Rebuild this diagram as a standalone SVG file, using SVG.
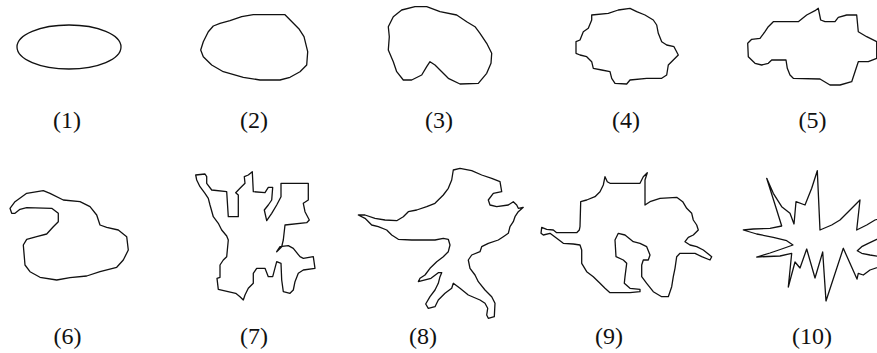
<svg xmlns="http://www.w3.org/2000/svg" width="877" height="353" viewBox="0 0 877 353">
<style>
.s{fill:none;stroke:#111;stroke-width:1.3;stroke-linejoin:round}
.t{font-family:"Liberation Serif","Times New Roman",serif;font-size:24px;text-anchor:middle;fill:#111}
</style>
<rect width="877" height="353" fill="#fff"/>
<g id="shape1"><ellipse class="s" cx="69" cy="47" rx="52" ry="22"/><text class="t" x="67" y="128">(1)</text></g>
<g id="shape2"><polygon class="s" points="253.3,14.7 285,14.7 299.3,29.3 304,36.7 307.7,51.7 306.7,65 300,71.7 290,77.3 280,80 260,80 243.3,77.3 223.3,71.7 211.7,65 203.3,56.7 200.7,50 203.3,41.7 208.3,31.7 213.3,26 220,23.3 230,20.7 241.7,16.7"/><text class="t" x="254" y="128">(2)</text></g>
<g id="shape3"><polygon class="s" points="415,6.7 426.7,6.7 440,11.7 456.7,15 466.7,21.7 475,26.7 480,33.3 486.7,43.3 491.7,53.3 491,63.3 486.7,73.3 478.3,83.3 460,84 448.3,78.3 440,70 435,65 430,61.7 426.7,66.7 421.7,75 411.7,80 403.3,80 396.7,71.7 393.3,61.7 388.3,50 389.3,36.7 388.3,26.7 393.3,16.7 401.7,10"/><text class="t" x="439" y="128">(3)</text></g>
<g id="shape4"><polygon class="s" points="591.7,15 608.3,13.3 618.3,10 630,8.3 636.7,11.7 645,15 653.3,20 656.7,25 658.3,33.3 661.7,41.7 666.7,45 674,46.7 678.3,55 673.3,60 668.3,65 666.7,75 661.7,78.3 646.7,78.3 630,80 626.7,84 615,83.3 611.7,78.3 610,71.7 601.7,70 593.3,68.3 591.7,61.7 586.7,56.7 580,55 576,53.3 576,41.7 580,40 583.3,31.7 588.3,28.3 591.7,20"/><text class="t" x="626" y="128">(4)</text></g>
<g id="shape5"><polygon class="s" points="773.3,21.7 798.3,21.7 806.7,15 815,10.7 818.3,8.3 820.7,20 825,21.7 835,21.7 838.3,17.3 846.7,15 856.7,15 858.3,31.7 866.7,36.7 876.7,41.7 876.7,58.3 868.3,61.7 858.3,61.7 855,71.7 851.7,81.7 840,85 830,85 820,79 793.3,78.3 790,75 787.3,68.3 786,60 771.7,60 768.3,63.3 761.7,65 755,63.3 748.3,56.7 747.7,43.3 751.7,39.3 760,38.3 765,31.7 768.3,26.7"/><text class="t" x="812.5" y="128">(5)</text></g>
<g id="shape6"><polygon class="s" points="10,208.3 15,201.7 26.7,193.3 43.3,190.7 50,193.3 63.3,200 80,201.7 90,206.7 96.7,215 100,225 106.7,227.3 118.3,230 126.7,236.7 128.3,250 123.3,260 116.7,267.3 100,271.7 86.7,276 70,277.7 56.7,280 40,277.3 30,271.7 25,265 23.3,245 26.7,239.3 36.7,236.7 46.7,234 53.3,226.7 58.3,221.7 58.3,213.3 51.7,208.3 26.7,207.7 20,209.3 15,213.3 11.7,213.3"/><text class="t" x="67.5" y="344">(6)</text></g>
<g id="shape7"><polygon class="s" points="195.7,175 205,174 206.7,176.7 206.7,183.3 211.7,190 226.7,191.7 228.3,216.7 238.3,216.7 238.3,195 235.7,192.7 240,188.3 245,183.3 244.3,176.7 248.3,175 252.3,171.7 253.3,191.7 265,192.7 268.3,187.3 272.7,187.3 271.7,200 268.3,205 264.3,210 266.7,220.7 271.7,213.3 276.7,205 281,196.7 281,183.3 308.3,183.3 308.3,200 303.3,203.3 305,211.7 309.3,220 306.7,222.7 285,225 283.3,240 281.7,246.7 276.7,251.7 280,246.7 288.3,245.7 293.3,248.3 300,256.7 303.3,258.3 313.3,256.7 315,268.3 303.3,270 298.3,273.3 295,281.7 293.3,290 290,293.3 283.3,291.7 281.7,280 281,263.3 276.7,261.7 272.7,276.7 268.3,276.7 265,268.3 256.7,268.3 253.3,273.3 253.3,283.3 248.3,288.3 245,295 243.3,300 240,296.7 235.7,293.3 218.3,289.3 217,278.3 220,277.3 220,265 223.3,260 226.7,256.7 228.3,240 226.7,236 221.7,230 218.3,223.3 213.3,216.7 210,205 208.3,198.3 205,193.3 200,186.7 196.7,180"/><text class="t" x="254" y="344">(7)</text></g>
<g id="shape8"><polygon class="s" points="453.3,170 460,168.3 471.7,170.7 481.7,175 491.7,178.3 500,181.7 501.7,191.7 493.3,193.3 488.3,200 490,205 496.7,206.7 508.3,205 513.3,201.7 516.7,205 518.3,208.3 523.3,207.3 518.3,211.7 515,216.7 513.3,221.7 510,226.7 508.3,233.3 503.3,236.7 498.3,240 488.3,243.3 481.7,246.7 480,251.7 471.7,255 468.3,260 470,268.3 475,275 478.3,281.7 485,290 491.7,296.7 495,303.3 494.3,316.7 488.3,318.3 486.7,315 487.7,308.3 485,303.3 480,300 468.3,295 460,288.3 453.3,283.3 451.7,288.3 445,293.3 438.3,300 435,306.7 428.3,308.3 425.7,304 430,296.7 435,290 438.3,283.3 440,276.7 441.7,272.7 438.3,272.7 431,278.3 418.3,281.7 420,278.3 425,275 430,268.3 436.7,261.7 443.3,256.7 448.3,251.7 450,245 448.3,239.3 443.3,238.3 435,240 411.7,240 398.3,239.3 391.7,235 386.7,230 378.3,226.7 371.7,225 365,218.3 358.3,215 365,215 375,218.3 385,220 396.7,220.7 403.3,216.7 408.3,211.7 416.7,210 426.7,206.7 435,203.3 443.3,195 448.3,188.3 451.7,180"/><text class="t" x="423" y="344">(8)</text></g>
<g id="shape9"><polygon class="s" points="605,176.7 607.3,181.7 610,183.3 640,183.3 643.3,176.7 647.3,172.7 645,180 645,205 650,201.7 660,198.3 676.7,197.3 682.7,201.7 686.7,208.3 691.7,213.3 693.3,220 696.7,225 698.3,230 693.3,235 688.3,237.3 685,241.7 690,245 696.7,246.7 703.3,250 711.7,256.7 710,260 701.7,256.7 695,253.3 680,253.3 676.7,256.7 675,268.3 673.3,276.7 671.7,286.7 668.3,296.7 661.7,296.7 653.3,291.7 646.7,283.3 641.7,276.7 641.7,265 643.3,260 648.3,260 650,255 646.7,246.7 640,243.3 633.3,241.7 625,235 618.3,233.3 615,240 616,256.7 623.3,260 626.7,263.3 625,276.7 624.3,283.3 630,288.3 640,289.3 640,291.7 630,292.7 610,292.7 605,288.3 600,283.3 593.3,276.7 586.7,271.7 581.7,263.3 581.7,250 580,245 573.3,244 563.3,243.3 556.7,238.3 550,233.3 543.3,235 541,233.3 541.7,227.3 546.7,229.3 553.3,230 556.7,232.7 576.7,232.7 579.3,230 580,226.7 580.7,201.7 586.7,200 595,196.7 600,191.7 603.3,185"/><text class="t" x="609" y="344">(9)</text></g>
<g id="shape10"><polygon class="s" points="743.3,230 753.3,229 770,228.3 781.7,226 776.7,210 766.7,178.3 773.3,193.3 781.7,206.7 790,213.3 794,224 796,201.7 805,205 811.7,188.3 817.3,170.7 820,230 831.7,225 840,220 848.3,211.7 860,200 856.7,230 866.7,225 875,220 882,218 882,237 868.3,243.3 861.7,246.7 857.3,250.7 861.7,253.3 870,255 882,257 882,266 870,270 863.3,275 858.3,273.3 857,279 843.3,248.3 826,301 822.7,252 815,278 806.7,249 800,268 795,262 788.3,287 791.7,253.3 780,256 756.7,257 770,253 781.7,249 793,245 786.7,240.7 773.3,237.3 756.7,234"/><text class="t" x="812" y="344">(10)</text></g>
</svg>
